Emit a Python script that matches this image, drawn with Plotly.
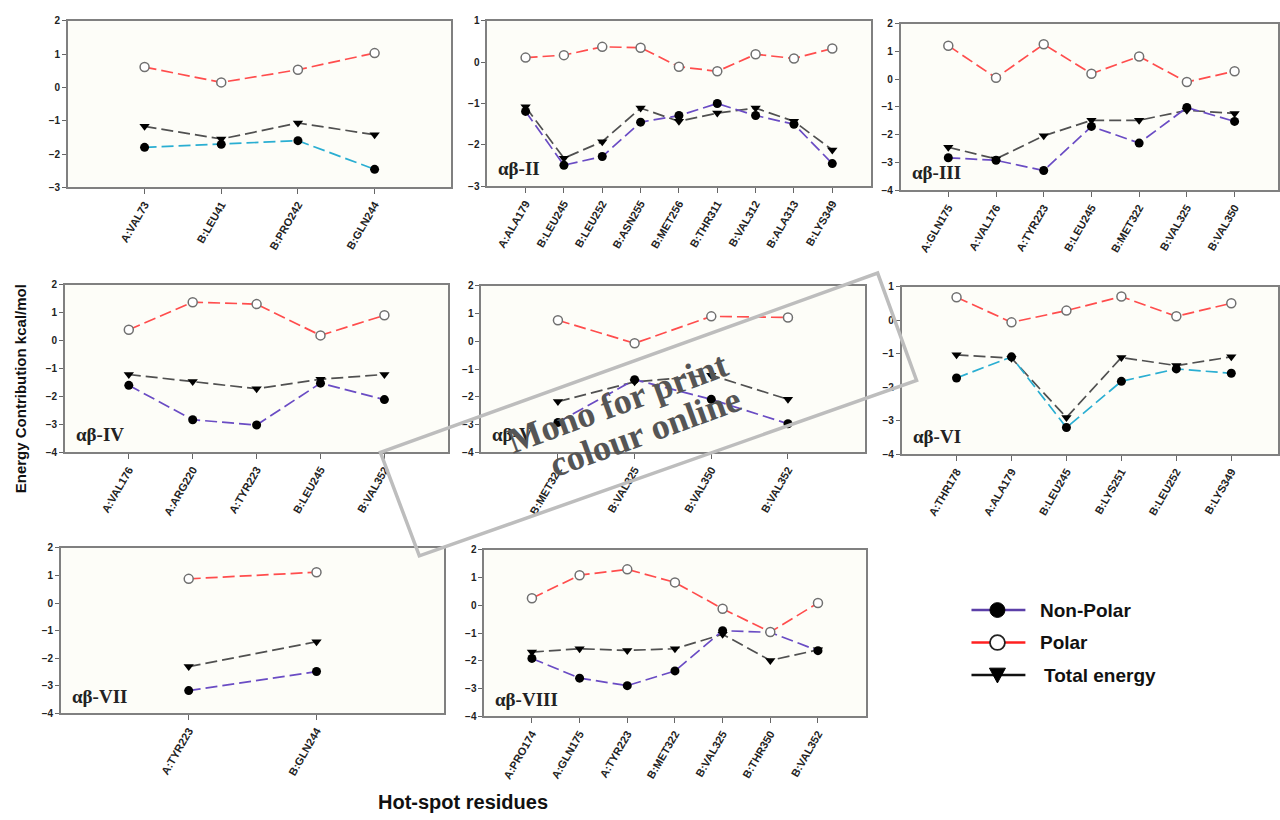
import plotly.graph_objects as go

W, H = 1280, 820

# ---------------- data ----------------
p1_res = ["A:VAL73", "B:LEU41", "B:PRO242", "B:GLN244"]
p1_nonpolar = [-1.80, -1.71, -1.60, -2.46]
p1_polar = [0.61, 0.15, 0.53, 1.03]
p1_total = [-1.17, -1.55, -1.07, -1.42]

p2_res = ["A:ALA179", "B:LEU245", "B:LEU252", "B:ASN255", "B:MET256", "B:THR311", "B:VAL312", "B:ALA313", "B:LYS349"]
p2_nonpolar = [-1.19, -2.49, -2.28, -1.45, -1.29, -1.00, -1.29, -1.50, -2.45]
p2_polar = [0.11, 0.17, 0.37, 0.35, -0.11, -0.22, 0.19, 0.09, 0.33]
p2_total = [-1.08, -2.32, -1.92, -1.11, -1.43, -1.23, -1.11, -1.43, -2.12]

p3_res = ["A:GLN175", "A:VAL176", "A:TYR223", "B:LEU245", "B:MET322", "B:VAL325", "B:VAL350"]
p3_nonpolar = [-2.83, -2.92, -3.29, -1.70, -2.30, -1.02, -1.52]
p3_polar = [1.21, 0.05, 1.26, 0.20, 0.82, -0.10, 0.29]
p3_total = [-2.45, -2.87, -2.04, -1.48, -1.48, -1.12, -1.23]

p4_res = ["A:VAL176", "A:ARG220", "A:TYR223", "B:LEU245", "B:VAL352"]
p4_nonpolar = [-1.60, -2.83, -3.02, -1.52, -2.11]
p4_polar = [0.39, 1.38, 1.31, 0.19, 0.91]
p4_total = [-1.21, -1.46, -1.72, -1.38, -1.21]

p5_res = ["B:MET322", "B:VAL325", "B:VAL350", "B:VAL352"]
p5_nonpolar = [-2.92, -1.38, -2.09, -2.97]
p5_polar = [0.76, -0.07, 0.90, 0.86]
p5_total = [-2.17, -1.46, -1.22, -2.09]

p6_res = ["A:THR178", "A:ALA179", "B:LEU245", "B:LYS251", "B:LEU252", "B:LYS349"]
p6_nonpolar = [-1.72, -1.09, -3.20, -1.82, -1.45, -1.58]
p6_polar = [0.69, -0.06, 0.29, 0.71, 0.12, 0.51]
p6_total = [-1.03, -1.13, -2.90, -1.11, -1.35, -1.09]

p7_res = ["A:TYR223", "B:GLN244"]
p7_nonpolar = [-3.17, -2.48]
p7_polar = [0.88, 1.12]
p7_total = [-2.30, -1.40]

p8_res = ["A:PRO174", "A:GLN175", "A:TYR223", "B:MET322", "B:VAL325", "B:THR350", "B:VAL352"]
p8_nonpolar = [-1.91, -2.62, -2.89, -2.36, -0.91, -0.97, -1.63]
p8_polar = [0.26, 1.09, 1.30, 0.83, -0.12, -0.96, 0.09]
p8_total = [-1.68, -1.56, -1.62, -1.56, -1.04, -1.98, -1.60]

panel_labels = ["", "αβ-II", "αβ-III", "αβ-IV", "αβ-V", "αβ-VI", "αβ-VII", "αβ-VIII"]
legend_names = ["Non-Polar", "Polar", "Total energy"]

# ---------------- layout geometry (pixels) ----------------
# (left, right, top, bottom, ymin, ymax, category slots to right edge)
geo = [
    (68, 452, 15, 184, -3, 2, None),
    (488, 872, 15, 183, -3, 1, None),
    (902, 1280, 18, 187, -4, 2, 7.91),
    (65, 449, 283, 453, -4, 2, None),
    (482, 866, 284, 453, -4, 2, None),
    (903, 1280, 285, 455, -4, 1, 6.85),
    (61, 445, 550, 718, -4, 2, None),
    (485, 867, 552, 721, -4, 2, None),
]

panels = [
    (p1_res, p1_nonpolar, p1_polar, p1_total),
    (p2_res, p2_nonpolar, p2_polar, p2_total),
    (p3_res, p3_nonpolar, p3_polar, p3_total),
    (p4_res, p4_nonpolar, p4_polar, p4_total),
    (p5_res, p5_nonpolar, p5_polar, p5_total),
    (p6_res, p6_nonpolar, p6_polar, p6_total),
    (p7_res, p7_nonpolar, p7_polar, p7_total),
    (p8_res, p8_nonpolar, p8_polar, p8_total),
]

PURPLE = "#6a4cc4"
CYAN = "#2aaed2"
RED = "#ff4d4d"
GREY = "#505050"
DASH = "12px,5px"

fig = go.Figure()
layout = {}
annotations = []
shapes = []

for i, ((res, nonp, pol, tot), g) in enumerate(zip(panels, geo)):
    n = i + 1
    xa = "x" if n == 1 else f"x{n}"
    ya = "y" if n == 1 else f"y{n}"
    left, right, top, bottom, ymin, ymax, slots = g
    npc = CYAN if n in (1, 6) else PURPLE
    fig.add_trace(go.Scatter(x=res, y=tot, xaxis=xa, yaxis=ya, mode="lines+markers",
                             line=dict(color=GREY, width=1.7, dash=DASH),
                             marker=dict(symbol="triangle-down", size=9, color="black"),
                             showlegend=False, name=legend_names[2]))
    fig.add_trace(go.Scatter(x=res, y=nonp, xaxis=xa, yaxis=ya, mode="lines+markers",
                             line=dict(color=npc, width=1.7, dash=DASH),
                             marker=dict(symbol="circle", size=9, color="black"),
                             showlegend=False, name=legend_names[0]))
    fig.add_trace(go.Scatter(x=res, y=pol, xaxis=xa, yaxis=ya, mode="lines+markers",
                             line=dict(color=RED, width=1.7, dash=DASH),
                             marker=dict(symbol="circle", size=9, color="white",
                                         line=dict(color="#707070", width=1.5)),
                             showlegend=False, name=legend_names[1]))
    nres = len(res)
    xr = [-1, (slots - 1) if slots else nres]
    axkey = "xaxis" if n == 1 else f"xaxis{n}"
    aykey = "yaxis" if n == 1 else f"yaxis{n}"
    layout[axkey] = dict(domain=[left / W, right / W], anchor=ya, type="category",
                         range=xr, tickangle=-60, ticks="outside", ticklen=5,
                         tickcolor="#666", showline=True, linecolor="#808080", linewidth=1.5,
                         mirror=True, showgrid=False, zeroline=False,
                         tickfont=dict(family="Arial", size=11, color="#222", weight="bold"))
    layout[aykey] = dict(domain=[1 - bottom / H, 1 - top / H], anchor=xa,
                         range=[ymin, ymax], dtick=1, ticks="outside", ticklen=4,
                         tickcolor="#666", showline=True, linecolor="#808080", linewidth=1.5,
                         mirror=True, showgrid=False, zeroline=False,
                         tickfont=dict(family="Arial", size=10, color="#222", weight="bold"))
    if panel_labels[i]:
        annotations.append(dict(x=(left + 9) / W, y=1 - (bottom - 5) / H, xref="paper", yref="paper",
                                text=panel_labels[i], showarrow=False, xanchor="left", yanchor="bottom",
                                font=dict(family="Liberation Serif", size=19, color="#222", weight="bold")))

# ---------------- manual legend (shapes + text) ----------------
leg_y = [613, 646, 679]
leg_colors = ["#5b3fa8", "#ff2020", "#111111"]
for yy, col in zip(leg_y, leg_colors):
    shapes.append(dict(type="line", xref="paper", yref="paper", x0=973 / W, x1=1027 / W,
                       y0=1 - yy / H, y1=1 - yy / H, line=dict(color=col, width=2.5)))
r = 7.5
cx = 999
shapes.append(dict(type="circle", xref="paper", yref="paper",
                   x0=(cx - r) / W, x1=(cx + r) / W, y0=1 - (leg_y[0] + r) / H, y1=1 - (leg_y[0] - r) / H,
                   fillcolor="black", line=dict(color="black", width=1)))
shapes.append(dict(type="circle", xref="paper", yref="paper",
                   x0=(cx - r) / W, x1=(cx + r) / W, y0=1 - (leg_y[1] + r) / H, y1=1 - (leg_y[1] - r) / H,
                   fillcolor="white", line=dict(color="#222", width=1.8)))
tri = [(cx - 8, leg_y[2] - 7), (cx + 8, leg_y[2] - 7), (cx, leg_y[2] + 8)]
shapes.append(dict(type="path", xref="paper", yref="paper",
                   path="M " + " L ".join(f"{x / W:.5f},{1 - y / H:.5f}" for x, y in tri) + " Z",
                   fillcolor="black", line=dict(color="black", width=1)))
for yy, name, x0 in zip(leg_y, legend_names, [1040, 1040, 1044]):
    annotations.append(dict(x=x0 / W, y=1 - yy / H, xref="paper", yref="paper", text=name,
                            showarrow=False, xanchor="left", yanchor="middle",
                            font=dict(family="Arial", size=19, color="#111", weight="bold")))

# ---------------- axis titles ----------------
annotations.append(dict(x=20 / W, y=1 - 388 / H, xref="paper", yref="paper",
                        text="Energy Contribution kcal/mol", textangle=-90, showarrow=False,
                        xanchor="center", yanchor="middle",
                        font=dict(family="Arial", size=15, color="#111", weight="bold")))
annotations.append(dict(x=464 / W, y=1 - 808 / H, xref="paper", yref="paper",
                        text="Hot-spot residues", showarrow=False, xanchor="center", yanchor="middle",
                        font=dict(family="Arial", size=20, color="#111", weight="bold")))

# ---------------- watermark ----------------
pts = [(381, 453), (879, 271), (918, 380), (420, 558)]
path = "M " + " L ".join(f"{x / W:.5f},{1 - y / H:.5f}" for x, y in pts) + " Z"
shapes.append(dict(type="path", xref="paper", yref="paper", path=path,
                   line=dict(color="#bdbdbd", width=3.5)))
annotations.append(dict(x=618 / W, y=1 - 403 / H, xref="paper", yref="paper", text="Mono for print",
                        textangle=-20, showarrow=False, xanchor="center", yanchor="middle",
                        font=dict(family="Liberation Serif", size=36, color="#555", weight="bold")))
annotations.append(dict(x=646 / W, y=1 - 432 / H, xref="paper", yref="paper", text="colour online",
                        textangle=-20, showarrow=False, xanchor="center", yanchor="middle",
                        font=dict(family="Liberation Serif", size=36, color="#555", weight="bold")))

fig.update_layout(**layout)
fig.update_layout(width=W, height=H, margin=dict(l=0, r=0, t=0, b=0),
                  paper_bgcolor="white", plot_bgcolor="#fdfdf8",
                  annotations=annotations, shapes=shapes, showlegend=False)

fig.write_html("out.html")
